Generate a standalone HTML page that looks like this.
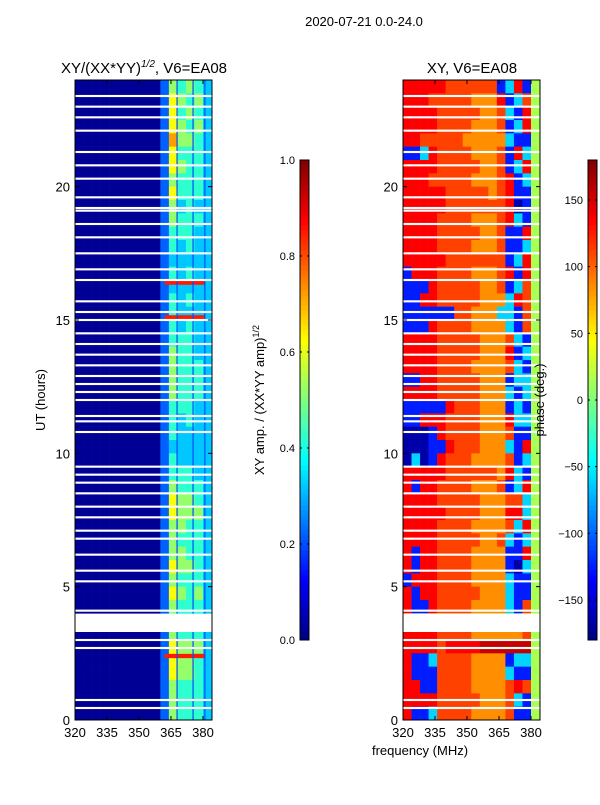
<!DOCTYPE html>
<html><head><meta charset="utf-8"><style>
body{margin:0;background:#fff;width:600px;height:800px;overflow:hidden}
svg text{font-family:"Liberation Sans",sans-serif;fill:#000}
</style></head><body>
<svg id="fig" width="600" height="800" xmlns="http://www.w3.org/2000/svg">
<text x="364" y="26" font-size="13" text-anchor="middle">2020-07-21 0.0-24.0</text>
<text x="144" y="73" font-size="15" text-anchor="middle">XY/(XX*YY)<tspan font-size="10" dy="-6" font-style="italic">1/2</tspan><tspan dy="6">, V6=EA08</tspan></text>
<text x="472" y="73" font-size="15" text-anchor="middle">XY, V6=EA08</text>
<text transform="translate(45,400) rotate(-90)" font-size="13" text-anchor="middle">UT (hours)</text>
<text x="420" y="755" font-size="13" text-anchor="middle">frequency (MHz)</text>
<text transform="translate(264,400) rotate(-90)" font-size="13" text-anchor="middle">XY amp. / (XX*YY amp)<tspan font-size="9" dy="-5">1/2</tspan></text>
<g id="left"></g>
<g id="right"></g>
<g id="cb1"></g>
<g id="cb2"></g>
<text transform="translate(544,400) rotate(-90)" font-size="13" text-anchor="middle">phase (deg.)</text>
</svg>
<script>
const freqTicks=[320,335,350,365,380];
const hourTicks=[0,5,10,15,20];
const ampTicks=[0.0,0.2,0.4,0.6,0.8,1.0];
const phaseTicks=[-150,-100,-50,0,50,100,150];
// rows top (23.5-24h) to bottom (0-0.5h), 16 cols of 4 MHz from 320
const ampRows=["0000000000254543","0000000000265453","0000000000264543","0000000000265453","0000000000275543","0000000000264443","0000000000265443","0000000000254443","0000000000264443","0000000000253433","0000000000254443","0000000000244433","0000000000243433","0000000000233333","0000000000243433","0000000000233333","0000000000243433","0000000000243333","0000000000243433","0000000000244433","0000000000254433","0000000000254443","0000000000254443","0000000000254443","0000000000244433","0000000000243433","0000000000243333","0000000000233333","0000000000243333","0000000000244433","0000000000254443","0000000000265543","0000000000265553","0000000000255443","0000000000254443","0000000000255443","0000000000265543","0000000000254443","0000000000265453","0000000000254443","0000000000243333","0000000000254443","0000000000265553","0000000000265543","0000000000265543","0000000000254443","0000000000254443","0000000000254443"];
const hotTimes=[2.4,15.1,16.4];
const hotValue=0.85;
const phaseRows=["rrrrroooooobcrbg","rrroooooyyyrbcog","rrrroooooyyocbrg","rrrrooooyyyobcrg","rroooooyyyyycbbg","bbcrooooyyyobrcg","rrrroooooyyobcrg","rrroooooyyyorbcg","rrrrroooooyorbbg","rrrrrooooooorBbg","rrrrooooyyyorcbg","rrrroooooyyobbrg","rrrrooooyyyobbcg","rrrrrooooooobcrg","brrrooooyyyorbrg","bbbroooooyyobcog","bbrroooooyyycrog","bbbbbbooyyyccbog","bbbrooooyyyycbog","rrrroooooyyyocbg","rrrroooooyyyrbcg","rrrrooooyyyyocbg","bbrroooooyyybccg","rrrroooooyyycbcg","bbbbbroooyyybcbg","bbrrrooooyyyrccg","BBBbrooooyyyobbg","BBBbbroooyyycbrg","BcBbroooyyyyobcg","rrrrrooooooyrcbg","rbrrooooyyyobcrg","rrrroooooyyyoocg","rrrrrooooyyyrrcg","rrrrooooyyyyocrg","rrrroooooyyocbcg","rbrrooooyyyybbrg","rbrrooooyyyybBcg","brrrooooyyyycbbg","rbrroooooyyycbbg","rbbrooooyyyycbog","gggggggggggggggg","rrrrooooyyyyyyog","rrrrorrrrRRRRRRg","rbbcooooyyyybccg","rbbbooooyyyycbbg","rrbbooooyyyyorog","rrrroooooyyyocbg","rbbcooooyyyyobbg"];
const phaseCodes={R:155,r:135,o:112,y:85,g:15,c:-60,b:-125,B:-165};
const gapTimes=[0.45,0.75,2.7,3.0,3.95,4.1,5.2,5.6,6.2,6.8,7.1,7.6,8.0,8.5,8.9,9.2,9.5,10.8,11.2,11.4,12.0,12.3,12.6,12.9,13.3,13.7,14.1,14.5,15.0,15.3,15.7,16.5,16.9,17.5,18.1,18.6,19.1,19.2,19.6,20.3,20.8,21.3,22.1,22.6,23.0,23.4];
const bigGap=[3.3,3.95];

const NS="http://www.w3.org/2000/svg";
function jet(v){v=Math.max(0,Math.min(1,v));const c=x=>Math.round(255*Math.max(0,Math.min(1,1.5-Math.abs(x))));return `rgb(${c(4*v-3)},${c(4*v-2)},${c(4*v-1)})`;}
function mk(tag,at,parent){const e=document.createElementNS(NS,tag);for(const k in at)e.setAttribute(k,at[k]);parent.appendChild(e);return e;}
const yT=h=>720-h*(640/24);
function panel(g,x0,rows,valFn,nm){
  const xF=f=>x0+(f-320)*(32/15);
  const nR=rows.length, dh=24/nR;
  rows.forEach((row,i)=>{
    const hTop=24-i*dh;
    for(let j=0;j<16;j++){
      const f0=320+j*4,f1=Math.min(f0+4,384.3);
      const r=mk('rect',{x:xF(f0),y:yT(hTop),width:xF(f1)-xF(f0)+0.3,height:yT(hTop-dh)-yT(hTop)+0.3,fill:jet(valFn(row[j]))},g);
      
      
    }
  });
  return xF;
}
function overlays(g,x0,xF,hot){
  if(hot){hotTimes.forEach(t=>{const r=mk('rect',{x:xF(362),y:yT(t+0.08),width:xF(381)-xF(362),height:yT(t-0.08)-yT(t+0.08),fill:jet(hotValue)},g);
    });
    [367.5,375,380.5].forEach(f=>{const l=mk('rect',{x:xF(f),y:80,width:1.5,height:640,fill:jet(0.2),opacity:0.8},g);
      });}
  gapTimes.forEach(t=>{const r=mk('rect',{x:x0,y:yT(t+0.04),width:137,height:yT(t-0.04)-yT(t+0.04),fill:'#fff'},g);
    });
  const b=mk('rect',{x:x0,y:yT(bigGap[1]),width:137,height:yT(bigGap[0])-yT(bigGap[1]),fill:'#fff'},g);
  
  const fr=mk('rect',{x:x0,y:80,width:137,height:640,fill:'none',stroke:'#000','stroke-width':1},g);
  
  freqTicks.forEach(f=>{mk('line',{x1:xF(f),x2:xF(f),y1:720,y2:716,stroke:'#000'},g);mk('line',{x1:xF(f),x2:xF(f),y1:80,y2:84,stroke:'#000'},g);
    const t=mk('text',{x:xF(f),y:737,'font-size':13,'text-anchor':'middle'},g);t.textContent=f;
    });
  hourTicks.forEach(h=>{mk('line',{x1:x0,x2:x0+4,y1:yT(h),y2:yT(h),stroke:'#000'},g);mk('line',{x1:x0+137,x2:x0+133,y1:yT(h),y2:yT(h),stroke:'#000'},g);
    const t=mk('text',{x:x0-5,y:yT(h)+5,'font-size':13,'text-anchor':'end'},g);t.textContent=h;
    });
}
const L=document.getElementById('left'),R=document.getElementById('right');
const xL=panel(L,75,ampRows,c=>c==='0'?0.02:parseInt(c)/10+0.02,'amp');overlays(L,75,xL,true);
const xR=panel(R,403,phaseRows,c=>(phaseCodes[c]+180)/360,'phase');overlays(R,403,xR,false);
function colorbar(g,x,vmin,vmax,ticks,fmt,nm){
  const yV=v=>640-(v-vmin)/(vmax-vmin)*480;
  for(let i=0;i<96;i++){const r=mk('rect',{x:x,y:640-(i+1)*5,width:9,height:5.4,fill:jet((i+0.5)/96)},g);
    }
  mk('rect',{x:x,y:160,width:9,height:480,fill:'none',stroke:'#000'},g);
  ticks.forEach(v=>{mk('line',{x1:x,x2:x+2,y1:yV(v),y2:yV(v),stroke:'#000'},g);mk('line',{x1:x+9,x2:x+7,y1:yV(v),y2:yV(v),stroke:'#000'},g);
    const t=mk('text',{x:x-5,y:yV(v)+4,'font-size':11,'text-anchor':'end'},g);t.textContent=fmt(v);
    });
}
colorbar(document.getElementById('cb1'),300,0,1,ampTicks,v=>v.toFixed(1),'amp-colorbar');
colorbar(document.getElementById('cb2'),588,-180,180,phaseTicks,v=>v<0?'\u2212'+(-v):''+v,'phase-colorbar');
</script>
</body></html>
